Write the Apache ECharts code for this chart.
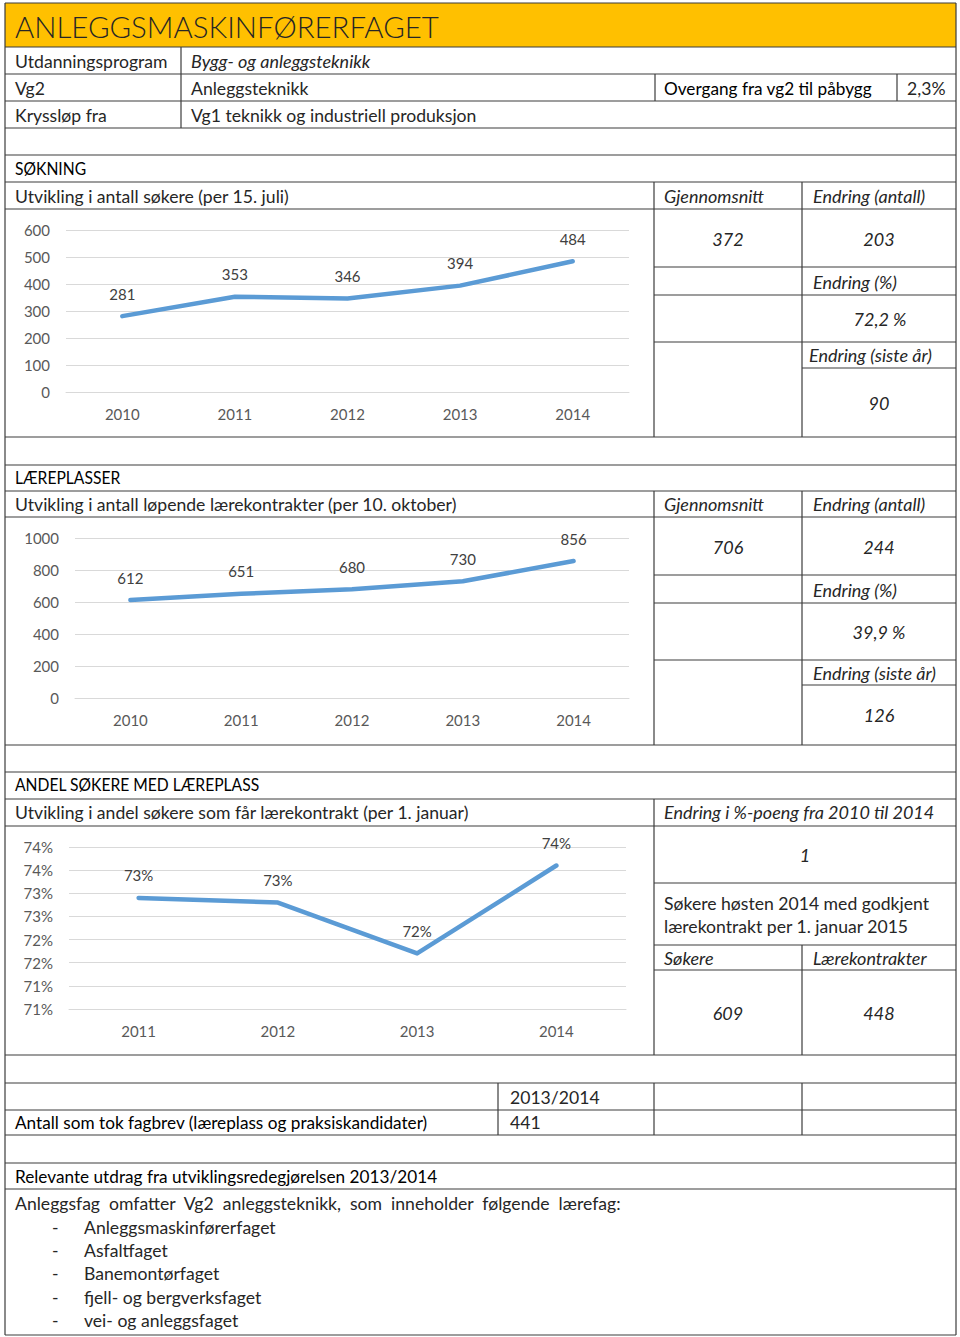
<!DOCTYPE html>
<html><head><meta charset="utf-8">
<script src="https://cdn.jsdelivr.net/npm/echarts@6/dist/echarts.min.js"></script>
<style>html,body{margin:0;padding:0;background:#fff}#c{width:960px;height:1337px}</style>
</head><body><div id="c"></div>
<script>
// ---------- data ----------
const years1 = ['2010', '2011', '2012', '2013', '2014'];
const soekere = [281, 353, 346, 394, 484];
const years2 = ['2010', '2011', '2012', '2013', '2014'];
const laerekontrakter = [612, 651, 680, 730, 856];
const years3 = ['2011', '2012', '2013', '2014'];
const andelMedLaereplass = [72.9, 72.8, 71.7, 73.6];

const FONT = 'Lato, "Open Sans", "DejaVu Sans", sans-serif';
const LINE = '#3c3c3c';
const BLUE = '#5B9BD5';

// ---------- table layout ----------
const L = 5, R = 956;
const fullRows = [3, 47, 74, 101, 128, 155, 182, 209, 437, 465, 491, 517, 745, 772, 799, 826, 1055, 1083, 1110, 1135, 1163, 1189, 1335];
const segs = [
  [L, 3, L, 1335], [R, 3, R, 1335],
  [181, 47, 181, 128],
  [655, 74, 655, 101], [897, 74, 897, 101],
  [654, 182, 654, 437], [802, 182, 802, 437],
  [654, 267, R, 267], [654, 295, R, 295], [654, 342, R, 342], [802, 368, R, 368],
  [654, 491, 654, 745], [802, 491, 802, 745],
  [654, 575, R, 575], [654, 603, R, 603], [654, 660, R, 660], [802, 685, R, 685],
  [654, 799, 654, 1055],
  [654, 883, R, 883], [654, 945, R, 945], [654, 970, R, 970],
  [802, 945, 802, 1055],
  [498, 1083, 498, 1135], [654, 1083, 654, 1135], [802, 1083, 802, 1135]
];
fullRows.forEach(y => segs.push([L, y, R, y]));

// [text, x, y, kind, align]   kind: b = body, i = italic, h = heading, c = caps heading
const texts = [
  ['Utdanningsprogram', 15, 61, 'b'], ['Bygg- og anleggsteknikk', 191, 61, 'i'],
  ['Vg2', 15, 88, 'b'], ['Anleggsteknikk', 191, 88, 'b'], ['Overgang fra vg2 til påbygg', 664, 88, 'h'], ['2,3%', 907, 88, 'b'],
  ['Kryssløp fra', 15, 115, 'b'], ['Vg1 teknikk og industriell produksjon', 191, 115, 'b'],
  ['SØKNING', 15, 169, 'c'],
  ['Utvikling i antall søkere (per 15. juli)', 15, 196, 'b'],
  ['Gjennomsnitt', 664, 196, 'i'], ['Endring (antall)', 813, 196, 'i'],
  ['372', 728, 239, 'i', 'center'], ['203', 879, 239, 'i', 'center'],
  ['Endring (%)', 813, 282, 'i'], ['72,2 %', 880, 319, 'i', 'center'],
  ['Endring (siste år)', 809, 355, 'i'], ['90', 879, 403, 'i', 'center'],
  ['LÆREPLASSER', 15, 478, 'c'],
  ['Utvikling i antall løpende lærekontrakter (per 10. oktober)', 15, 504, 'b'],
  ['Gjennomsnitt', 664, 504, 'i'], ['Endring (antall)', 813, 504, 'i'],
  ['706', 728, 547, 'i', 'center'], ['244', 879, 547, 'i', 'center'],
  ['Endring (%)', 813, 590, 'i'], ['39,9 %', 879, 632, 'i', 'center'],
  ['Endring (siste år)', 813, 673, 'i'], ['126', 879, 715, 'i', 'center'],
  ['ANDEL SØKERE MED LÆREPLASS', 15, 785, 'c'],
  ['Utvikling i andel søkere som får lærekontrakt (per 1. januar)', 15, 812, 'b'],
  ['Endring i %-poeng fra 2010 til 2014', 664, 812, 'i'],
  ['1', 805, 855, 'i', 'center'],
  ['Søkere høsten 2014 med godkjent', 664, 903, 'b'], ['lærekontrakt per 1. januar 2015', 664, 926, 'b'],
  ['Søkere', 664, 958, 'i'], ['Lærekontrakter', 813, 958, 'i'],
  ['609', 728, 1013, 'i', 'center'], ['448', 879, 1013, 'i', 'center'],
  ['2013/2014', 510, 1097, 'b'], ['Antall som tok fagbrev (læreplass og praksiskandidater)', 15, 1122, 'h'], ['441', 510, 1122, 'b'],
  ['Relevante utdrag fra utviklingsredegjørelsen 2013/2014', 15, 1176, 'h'],
  ['Anleggsfag  omfatter  Vg2  anleggsteknikk,  som  inneholder  følgende  lærefag:', 15, 1203, 'b']
];
const listItems = ['Anleggsmaskinførerfaget', 'Asfaltfaget', 'Banemontørfaget', 'fjell- og bergverksfaget', 'vei- og anleggsfaget'];
const listY = [1227, 1250, 1273, 1297, 1320];
listItems.forEach((t, i) => { texts.push(['-', 52, listY[i], 'b']); texts.push([t, 84, listY[i], 'b']); });

const fontOf = {
  b: '400 17.6px ' + FONT,
  i: 'italic 400 18px ' + FONT,
  h: '400 17.2px ' + FONT,
  c: '400 17.2px ' + FONT
};
const colorOf = { b: '#262626', i: '#262626', h: '#000', c: '#000' };

const graphics = [];
graphics.push({ type: 'rect', shape: { x: L, y: 3, width: R - L, height: 44 }, style: { fill: '#FFC000' }, z: 0 });
segs.forEach(s => graphics.push({
  type: 'line', shape: { x1: s[0], y1: s[1], x2: s[2], y2: s[3] },
  style: { stroke: LINE, lineWidth: 1.2 }, z: 5
}));
graphics.push({
  type: 'text', x: 15, y: 26, z: 6,
  style: { text: 'ANLEGGSMASKINFØRERFAGET', fill: '#262626', font: '300 29.4px ' + FONT, align: 'left', verticalAlign: 'middle', textAlign: 'left', textVerticalAlign: 'middle' }
});
texts.forEach(t => {
  const [s, x, y, kind, align = 'left'] = t;
  const el = {
    type: 'text', x, y, z: 6,
    style: {
      text: s, fill: colorOf[kind], font: fontOf[kind],
      align, verticalAlign: 'middle', textAlign: align, textVerticalAlign: 'middle'
    }
  };
  if (kind === 'c') el.scaleX = 0.91;
  graphics.push(el);
});

// ---------- charts ----------
const grids = [
  { left: 66, right: 331, top: 230, bottom: 945 },
  { left: 75, right: 331, top: 538, bottom: 639 },
  { left: 69, right: 334, top: 847, bottom: 328 }
];
const axisText = { color: '#595959', fontSize: 15, fontFamily: FONT };
function xAx(i, cats) {
  return {
    type: 'category', gridIndex: i, data: cats, boundaryGap: true,
    axisTick: { show: false }, axisLine: { show: true, lineStyle: { color: '#D9D9D9' } },
    axisLabel: Object.assign({ margin: 14 }, axisText)
  };
}
function yAx(i, min, max, interval, fmt) {
  return {
    type: 'value', gridIndex: i, min, max, interval,
    axisLine: { show: false }, axisTick: { show: false },
    splitLine: { lineStyle: { color: '#D9D9D9', width: 1 } },
    axisLabel: Object.assign({ margin: 16, formatter: fmt }, axisText)
  };
}
function ser(i, data, fmt) {
  return {
    type: 'line', xAxisIndex: i, yAxisIndex: i, data,
    symbol: 'circle', symbolSize: 2, itemStyle: { color: BLUE },
    lineStyle: { color: BLUE, width: 4.5, cap: 'round', join: 'round' },
    label: { show: true, position: 'top', distance: 14, color: '#404040', fontSize: 15, fontFamily: FONT, formatter: fmt },
    animation: false, silent: true
  };
}
const plain = v => String(v);
const pct = v => Math.round(v) + '%';

const option = {
  backgroundColor: '#fff',
  animation: false,
  grid: grids,
  xAxis: [xAx(0, years1), xAx(1, years2), xAx(2, years3)],
  yAxis: [
    yAx(0, 0, 600, 100, plain),
    yAx(1, 0, 1000, 200, plain),
    yAx(2, 70.5, 74, 0.5, pct)
  ],
  series: [
    ser(0, soekere),
    ser(1, laerekontrakter),
    ser(2, andelMedLaereplass, p => pct(p.value))
  ],
  graphic: graphics
};
const chart = echarts.init(document.getElementById('c'), null, { renderer: 'svg' });
chart.setOption(option);
</script>
</body></html>
